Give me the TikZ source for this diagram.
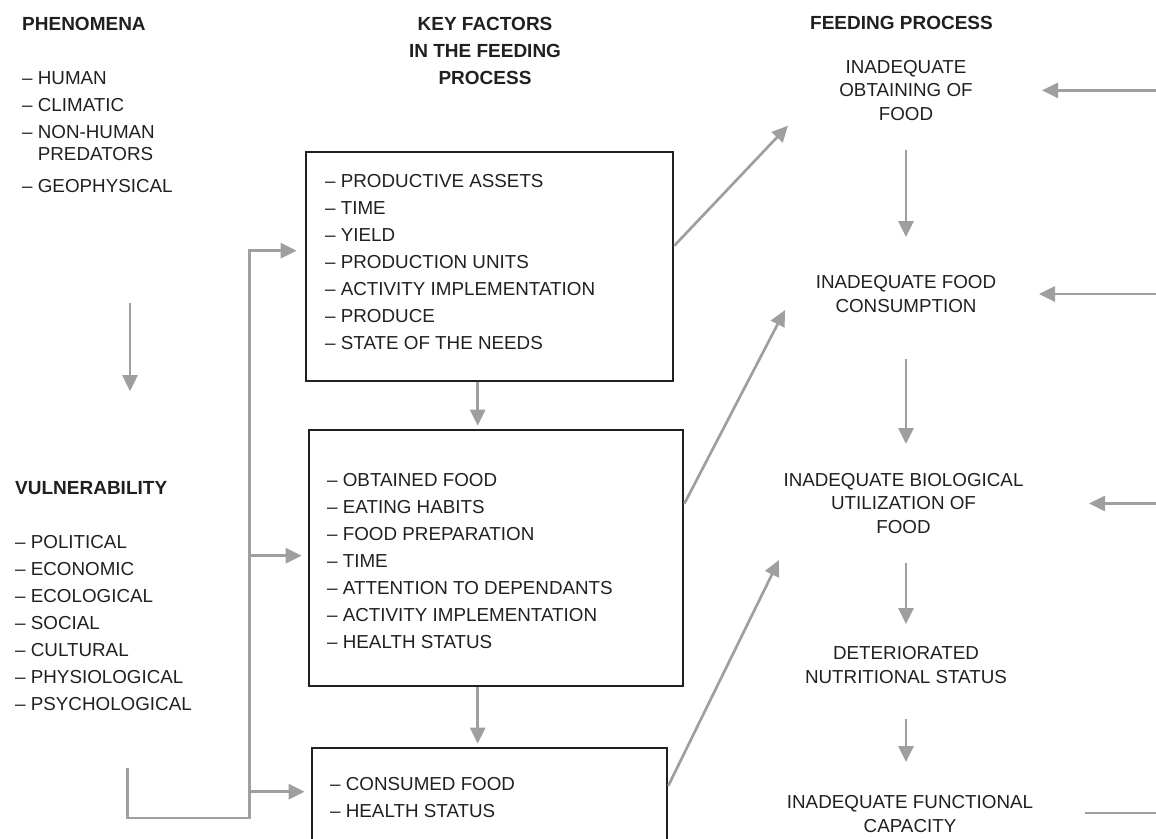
\documentclass[tikz,border=0pt]{standalone}
\usepackage{fontspec}
\setmainfont{Liberation Sans}
\usetikzlibrary{arrows.meta,calc}
\definecolor{ink}{RGB}{35,31,32}
\definecolor{gr}{RGB}{158,159,161}
\tikzset{
  txt/.style={inner sep=0pt, text=ink, font=\fontsize{18.8}{27}\selectfont, align=left},
  rtxt/.style={inner sep=0pt, text=ink, font=\fontsize{18.8}{23.7}\selectfont, align=center},
  head/.style={inner sep=0pt, text=ink, font=\bfseries\fontsize{19}{27}\selectfont},
  frame/.style={draw=ink, line width=2.7pt, inner sep=0pt},
  arr/.style={draw=gr, line width=2.7pt, -{Triangle[length=16pt,width=15pt]}},
  ln/.style={draw=gr, line width=2.7pt},
}
\begin{document}
\begin{tikzpicture}[x=1pt,y=-1pt]
\useasboundingbox (0,0) rectangle (1156,838);
\clip (0,0) rectangle (1156,838);

% headings
\node[head, anchor=north west] (phenT) at (22,17.2) {PHENOMENA};
\node[head, anchor=north, align=center] (keyT) at (485,17.2) {KEY FACTORS\\IN THE FEEDING\\PROCESS};
\node[head, anchor=north] (feedT) at (901.5,16) {FEEDING PROCESS};

% left lists
\node[txt, anchor=north west] (phen) at (22,71.3)
  {– HUMAN\\– CLIMATIC\\– NON-HUMAN\\[-5pt]\hphantom{–\ }PREDATORS\\[5pt]– GEOPHYSICAL};
\node[head, anchor=north west] (vulT) at (15,481.2) {VULNERABILITY};
\node[txt, anchor=north west] (vul) at (15,535.3)
  {– POLITICAL\\– ECONOMIC\\– ECOLOGICAL\\– SOCIAL\\– CULTURAL\\– PHYSIOLOGICAL\\– PSYCHOLOGICAL};

% key factor boxes
\node[frame, minimum width=367pt, minimum height=229pt] (box1) at (489.5,266.5) {};
\node[txt, anchor=north west] (f1) at (325,174.3)
  {– PRODUCTIVE ASSETS\\– TIME\\– YIELD\\– PRODUCTION UNITS\\– ACTIVITY IMPLEMENTATION\\– PRODUCE\\– STATE OF THE NEEDS};
\node[frame, minimum width=374pt, minimum height=256pt] (box2) at (496,558) {};
\node[txt, anchor=north west] (f2) at (327,473.3)
  {– OBTAINED FOOD\\– EATING HABITS\\– FOOD PREPARATION\\– TIME\\– ATTENTION TO DEPENDANTS\\– ACTIVITY IMPLEMENTATION\\– HEALTH STATUS};
\node[frame, minimum width=355pt, minimum height=102pt] (box3) at (489.5,799) {};
\node[txt, anchor=north west] (f3) at (330,777.3)
  {– CONSUMED FOOD\\– HEALTH STATUS};

% feeding process column
\node[rtxt] (obtain) at (906,90.4) {INADEQUATE\\OBTAINING OF\\FOOD};
\node[rtxt] (consum) at (906,294) {INADEQUATE FOOD\\CONSUMPTION};
\node[rtxt] (bio) at (903.5,503.5) {INADEQUATE BIOLOGICAL\\UTILIZATION OF\\FOOD};
\node[rtxt] (deter) at (906,665) {DETERIORATED\\NUTRITIONAL STATUS};
\node[rtxt] (func) at (910,814) {INADEQUATE FUNCTIONAL\\CAPACITY};

% vertical arrows right column
\draw[arr] ($(obtain.center)+(0,59.6)$) -- ($(consum.center)+(0,-57)$);
\draw[arr] ($(consum.center)+(0,65)$) -- ($(consum.center |- bio.center)+(0,-59.5)$);
\draw[arr] ($(consum.center |- bio.center)+(0,59.5)$) -- ($(deter.center)+(0,-41)$);
\draw[arr] ($(deter.center)+(0,54)$) -- ($(deter.center |- func.center)+(0,-52)$);

% feedback from the right edge
\coordinate (redge) at (1160,0);
\draw[arr] (obtain.center -| redge) -- ($(obtain.center)+(136,0)$);
\draw[arr] (consum.center -| redge) -- ($(consum.center)+(133,0)$);
\draw[arr] (bio.center -| redge) -- ($(bio.center)+(185.5,0)$);
\draw[ln] ($(func.center)+(175,-1)$) -- ($(func.center -| redge)+(0,-1)$);

% diagonals from boxes
\draw[arr] ($(box1.north east)+(0,95)$) -- ($(obtain.center)+(-118,35.3)$);
\draw[arr] ($(box2.north east)+(0,75)$) -- ($(consum.center)+(-121,16)$);
\draw[arr] ($(box3.north east)+(0,39)$) -- ($(bio.center)+(-124.5,56.5)$);

% box to box
\draw[arr] ($(box1.south west)+(173,0)$) -- ($(box2.north west)+(170,-3)$);
\draw[arr] ($(box2.south west)+(170,0)$) -- ($(box3.north west)+(167,-3)$);

% phenomena to vulnerability
\draw[arr] ($(phen.south west)+(108,110)$) -- ($(vulT.north west)+(115,-90)$);

% vulnerability bus
\coordinate (bus) at (249.5,818);
\coordinate (t1) at ($(box1.north west)+(-8,100)$);
\coordinate (t2) at ($(box2.north west)+(-6,127)$);
\coordinate (t3) at ($(box3.north west)+(-6,45)$);
\draw[arr] ($(vul.south west)+(112.7,57.3)$) |- (bus) |- (t1);
\draw[arr] (bus |- t2) -- (t2);
\draw[arr] (bus |- t3) -- (t3);
\end{tikzpicture}
\end{document}
